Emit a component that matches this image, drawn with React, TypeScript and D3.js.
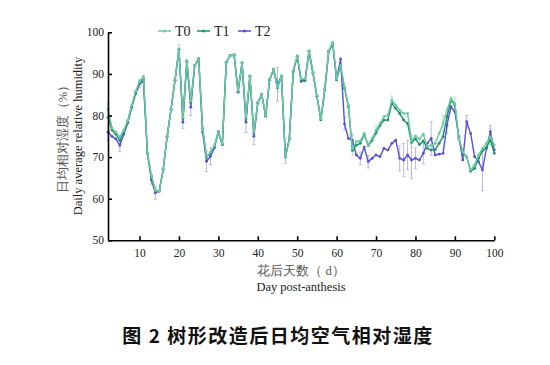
import React from 'react';
import * as d3 from 'd3';

// days 2..100 after anthesis
const days: number[] = d3.range(2, 101);

const t0: number[] = [
  81.5, 77, 76, 74.8, 76.5, 78.8, 82.5, 85.8, 88.2, 89.4,
  71, 65.6, 62, 61.8, 67, 75, 81.5, 88.5, 96, 79.5,
  93.2, 83.5, 92, 93.8, 77, 70.2, 71.2, 72.8, 76.2, 73.2,
  92.8, 94.4, 94.6, 86, 92.8, 79.5, 89.6, 76, 83.2, 85.2,
  80, 88.8, 91.2, 86.8, 89.6, 70, 74.4, 90.8, 94.4, 88.8,
  88.8, 95.6, 90.4, 84.8, 79.2, 86.4, 95.6, 97.6, 88.8, 92,
  86.8, 82.4, 72, 73.7, 73.9, 75.7, 73, 74.5, 76.5, 78.1,
  79.7, 80.1, 83.7, 82.5, 81.3, 80.5, 80.5, 73.9, 75.1, 74.3,
  75.5, 72.5, 72.9, 73.3, 75.7, 78.1, 81.3, 84.1, 82.9, 74.5,
  71.3, 70.1, 66.9, 68.1, 70.5, 72.1, 73.3, 74.9, 72.9,
];

const t1: number[] = [
  79.5, 76.5, 75.5, 74, 76, 78.5, 82, 85.5, 88, 88.8,
  71, 65.4, 61.8, 61.8, 67, 75, 81.5, 88.5, 95.8, 79.2,
  93, 83.2, 92, 93.6, 76.8, 70, 71, 72.6, 76, 73,
  92.8, 94.4, 94.6, 85.6, 92.6, 79.2, 89.4, 75.8, 83, 85,
  80, 88.6, 91, 86.6, 89.4, 70, 74.4, 90.6, 94.2, 88.6,
  88.6, 95.4, 90.2, 84.6, 79, 86.2, 95.4, 97.4, 88.6, 92,
  86.5, 82, 71.6, 72.9, 73.3, 75.5, 72.8, 74, 75.8, 77.6,
  78.9, 78.9, 82.9, 81.7, 80.5, 78.9, 78.1, 73.5, 74.4, 73,
  73.9, 72.1, 71.7, 71.8, 73.3, 74.9, 79.7, 83.7, 82.5, 74.5,
  71, 70, 66.6, 67.3, 69.7, 71.5, 72.3, 74.1, 70.9,
];

const t2: number[] = [
  76, 75, 74.4, 72.8, 75.5, 78.2, 82, 85.2, 87.6, 88.2,
  70.8, 64.5, 61.4, 61.8, 67, 75, 81.5, 88.5, 95.8, 78.4,
  93, 82, 92, 93.6, 76, 69, 70.2, 72.2, 76.2, 73,
  92.8, 94.4, 94.4, 85.8, 92.6, 78.4, 89.4, 75, 83, 85,
  79.8, 88.6, 91, 87.5, 89.4, 70, 74.4, 90.6, 94.2, 88.2,
  88.4, 95.4, 90.2, 84.6, 79, 86.2, 95.4, 97.4, 88.6, 93.6,
  78, 74.5, 74, 70.5, 69.7, 72.4, 68.9, 69.7, 70.5, 70.1,
  72.1, 71.7, 73.3, 74.1, 69.7, 69.3, 70.5, 69.3, 69.7, 69.3,
  70.9, 73.3, 74.5, 70.5, 70.7, 70.9, 77.7, 82.1, 80.9, 74.9,
  69.3, 78.5, 75.7, 70.1, 68.9, 66.9, 72.1, 76.1, 71.7,
];

// [day, half-width] of visible error bars
const t0Err: [number, number][] = [
  [2, 1.5], [20, 1], [45, 1], [64, 1.5], [70, 1], [74, 1], [79, 1.5], [87, 2], [90, 1.5], [99, 2],
];
const t2Err: [number, number][] = [
  [2, 2], [5, 1.5], [10, 1], [13, 1], [14, 1.5], [21, 1.5], [23, 2], [27, 2.5], [28, 2],
  [37, 2.5], [39, 2], [45, 4], [47, 1.5], [62, 1.5], [64, 1.5], [66, 1.5], [68, 1.5],
  [76, 3], [77, 4], [78, 3.5], [79, 4.5], [80, 2.5], [82, 2.5], [84, 4], [88, 2],
  [93, 1.5], [97, 5], [99, 1.5],
];

const seriesNames = ['T0', 'T1', 'T2'];
const xTicks = [10, 20, 30, 40, 50, 60, 70, 80, 90, 100];
const yTicks = [50, 60, 70, 80, 90, 100];

const colors = ['#6ccaa2', '#1a9466', '#5550dc'];
const errColors = ['#a8e0c6', '#a8e0c6', '#b9b7ea'];

const W = 550;
const H = 365;
const serif = '"Liberation Serif", "Times New Roman", serif';

const App: React.FC = () => {
  const x = d3.scaleLinear().domain([2, 100]).range([108, 494.3]);
  const y = d3.scaleLinear().domain([50, 100]).range([240.3, 32.3]);

  const line = d3.line<number>()
    .x((_, i) => x(days[i]))
    .y(d => y(d));

  const all = [t0, t1, t2];
  const errs: [number, number][][] = [t0Err, [], t2Err];

  const axisRef = (node: SVGGElement | null, kind: 'x' | 'y') => {
    if (!node) return;
    const g = d3.select(node);
    g.selectAll('*').remove();
    if (kind === 'x') {
      g.attr('transform', `translate(0,${y(50)})`)
        .call(d3.axisBottom(x).tickValues(xTicks).tickSizeInner(-4).tickSizeOuter(0).tickPadding(9));
    } else {
      g.attr('transform', `translate(${x(2)},0)`)
        .call(d3.axisLeft(y).tickValues(yTicks).tickSizeInner(-4).tickSizeOuter(0).tickPadding(4));
    }
    g.select('.domain').attr('stroke', '#000').attr('stroke-width', 1.6);
    g.selectAll('.tick line').attr('stroke', '#000').attr('stroke-width', 1.6);
    g.selectAll('.tick text')
      .attr('font-family', serif)
      .attr('font-size', 11.5)
      .attr('fill', '#222');
  };

  return (
    <svg width={W} height={H} style={{ position: 'absolute', left: 0, top: 0, background: '#fff' }}>
      {/* error bars */}
      {errs.map((list, si) => (
        <g key={'e' + si} stroke={errColors[si]} strokeWidth={1}>
          {list.map(([d, e]) => {
            const v = all[si][d - 2];
            const cx = x(d);
            return (
              <g key={d}>
                <line x1={cx} x2={cx} y1={y(v - e)} y2={y(v + e)} />
                <line x1={cx - 1.5} x2={cx + 1.5} y1={y(v - e)} y2={y(v - e)} />
                <line x1={cx - 1.5} x2={cx + 1.5} y1={y(v + e)} y2={y(v + e)} />
              </g>
            );
          })}
        </g>
      ))}

      {/* series lines: T2 underneath, mint T0 on top */}
      {[2, 1, 0].map(si => (
        <g key={'s' + si}>
          <path d={line(all[si]) || ''} fill="none" stroke={colors[si]} strokeWidth={1.4} strokeLinejoin="round" />
          {all[si].map((v, i) => (
            <circle key={i} cx={x(days[i])} cy={y(v)} r={1.4} fill={colors[si]} />
          ))}
        </g>
      ))}

      <g ref={n => axisRef(n, 'x')} />
      <g ref={n => axisRef(n, 'y')} />

      {/* legend */}
      {seriesNames.map((name, i) => {
        const lx = [158, 197, 238][i];
        return (
          <g key={name}>
            <line x1={lx} x2={lx + 13} y1={31} y2={31} stroke={colors[i]} strokeWidth={1.5} />
            <circle cx={lx + 6.5} cy={31} r={1.5} fill={colors[i]} />
            <text x={lx + 17} y={36} fontFamily={serif} fontSize={14} fill="#222">{name}</text>
          </g>
        );
      })}

      {/* y title */}
      <g transform={`translate(67,136) rotate(-90)`}>
        <text textAnchor="middle" fontFamily={serif} fontSize={12.5} fill="#555">日均相对湿度（%）</text>
        <text y={15} textAnchor="middle" fontFamily={serif} fontSize={12.5} fill="#222">Daily average relative humidity</text>
      </g>

      {/* x title */}
      <text x={301} y={275} textAnchor="middle" fontFamily={serif} fontSize={12.5} fill="#555">花后天数（ d）</text>
      <text x={301} y={291} textAnchor="middle" fontFamily={serif} fontSize={12.5} fill="#222">Day post-anthesis</text>

      {/* caption */}
      <text x={278} y={343} textAnchor="middle" fontFamily='"Noto Sans CJK SC", sans-serif' fontWeight={700} fontSize={19} letterSpacing={1.5} fill="#111">
        图 2  树形改造后日均空气相对湿度
      </text>
    </svg>
  );
};

export default App;
